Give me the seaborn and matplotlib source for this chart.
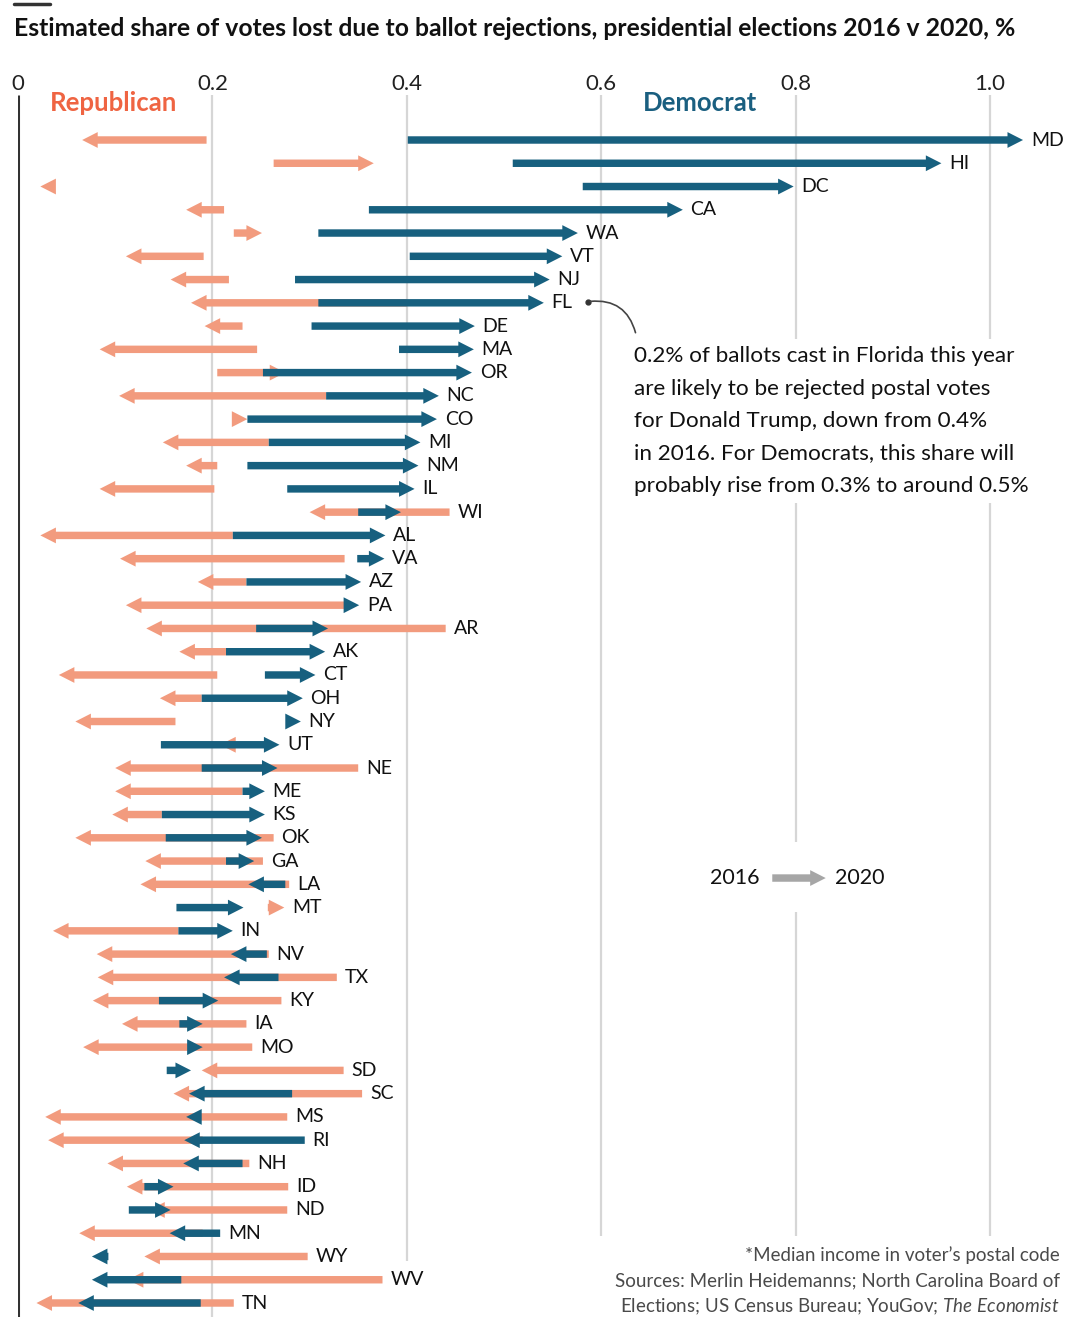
import numpy as np
import pandas as pd
import seaborn as sns
import matplotlib.pyplot as plt
from matplotlib.patches import FancyArrow, Rectangle
from matplotlib.lines import Line2D

# values (% of votes lost), rows top to bottom
states = ["MD", "HI", "DC", "CA", "WA", "VT", "NJ", "FL", "DE", "MA", "OR", "NC", "CO",
          "MI", "NM", "IL", "WI", "AL", "VA", "AZ", "PA", "AR", "AK", "CT", "OH", "NY",
          "UT", "NE", "ME", "KS", "OK", "GA", "LA", "MT", "IN", "NV", "TX", "KY", "IA",
          "MO", "SD", "SC", "MS", "RI", "NH", "ID", "ND", "MN", "WY", "WV", "TN"]
rep_2016 = [0.194, 0.263, 0.038, 0.212, 0.222, 0.191, 0.217, 0.400, 0.231, 0.246, 0.205, 0.317, 0.221,
            0.258, 0.205, 0.202, 0.444, 0.221, 0.336, 0.235, 0.336, 0.440, 0.214, 0.205, 0.189, 0.162,
            0.217, 0.350, 0.231, 0.148, 0.263, 0.252, 0.279, 0.257, 0.165, 0.258, 0.328, 0.271, 0.235,
            0.241, 0.335, 0.354, 0.277, 0.190, 0.238, 0.278, 0.277, 0.190, 0.298, 0.375, 0.222]
rep_2020 = [0.066, 0.366, 0.023, 0.173, 0.251, 0.111, 0.157, 0.178, 0.192, 0.084, 0.275, 0.104, 0.236,
            0.149, 0.173, 0.084, 0.300, 0.023, 0.105, 0.185, 0.111, 0.132, 0.166, 0.042, 0.146, 0.059,
            0.208, 0.100, 0.100, 0.097, 0.059, 0.131, 0.126, 0.274, 0.036, 0.081, 0.082, 0.077, 0.107,
            0.067, 0.189, 0.160, 0.028, 0.031, 0.092, 0.112, 0.135, 0.063, 0.130, 0.113, 0.019]
dem_2016 = [0.401, 0.509, 0.581, 0.361, 0.309, 0.403, 0.285, 0.309, 0.302, 0.392, 0.252, 0.317, 0.236,
            0.258, 0.236, 0.277, 0.350, 0.221, 0.349, 0.235, 0.335, 0.245, 0.214, 0.254, 0.189, 0.276,
            0.147, 0.189, 0.231, 0.148, 0.152, 0.214, 0.275, 0.163, 0.165, 0.256, 0.268, 0.145, 0.166,
            0.175, 0.153, 0.282, 0.188, 0.295, 0.231, 0.130, 0.114, 0.208, 0.093, 0.168, 0.188]
dem_2020 = [1.034, 0.950, 0.798, 0.684, 0.576, 0.560, 0.547, 0.541, 0.470, 0.469, 0.467, 0.433, 0.431,
            0.414, 0.412, 0.408, 0.394, 0.378, 0.377, 0.353, 0.351, 0.319, 0.316, 0.306, 0.293, 0.291,
            0.269, 0.267, 0.254, 0.254, 0.251, 0.243, 0.237, 0.232, 0.221, 0.219, 0.212, 0.206, 0.190,
            0.190, 0.178, 0.176, 0.173, 0.171, 0.170, 0.160, 0.157, 0.156, 0.076, 0.076, 0.062]

ticks = [0, 0.2, 0.4, 0.6, 0.8, 1.0]
tick_labels = ["0", "0.2", "0.4", "0.6", "0.8", "1.0"]

df = pd.DataFrame({"state": states, "rep_2016": rep_2016, "rep_2020": rep_2020,
                   "dem_2016": dem_2016, "dem_2020": dem_2020})
df["row"] = np.arange(len(df))

REP = "#f29b7e"
DEM = "#17607f"

sns.set_theme(style="white")
plt.rcParams["font.family"] = ["Lato", "DejaVu Sans"]
plt.rcParams["mathtext.fontset"] = "custom"
plt.rcParams["mathtext.rm"] = "Lato"
plt.rcParams["mathtext.it"] = "Lato:italic"

W, H = 1079, 1317
x0, unit = 18, 972           # pixel of zero, pixels per 1.0
top_px, row0, row_h = 95, 140, 23.26

fig = plt.figure(figsize=(W / 100, H / 100), dpi=100)
fig.patch.set_facecolor("white")
ax = fig.add_axes([x0 / W, 0, 1 - x0 / W, 1 - top_px / H])
ax.set_xlim(0, (W - x0) / unit)
ax.set_ylim((H - row0) / row_h, (top_px - row0) / row_h)
ax.set_facecolor("white")

# gridlines
grid_end = {0: None, 0.2: None, 0.4: 48.2, 0.6: 47.1, 0.8: 47.1, 1.0: 47.1}
for t in ticks:
    yb = grid_end[t] if grid_end[t] is not None else ax.get_ylim()[0]
    if t == 0:
        ax.vlines(t, ax.get_ylim()[1], yb, color="#333333", lw=2.2, zorder=1)
    else:
        ax.vlines(t, ax.get_ylim()[1], yb, color="#d6d6d6", lw=1.6, zorder=1)

ax.set_xticks(ticks, tick_labels)
ax.xaxis.tick_top()
ax.tick_params(axis="x", length=0, pad=1, labelsize=16, labelcolor="#222222")
ax.set_yticks([])
sns.despine(ax=ax, left=True, bottom=True, top=True, right=True)

HW, SW, HL = 0.68, 0.32, 0.016


def arrow(a, b, y, color, z):
    d = b - a
    if abs(d) < HL:
        a = b - np.sign(d) * HL
        d = b - a
    ax.add_patch(FancyArrow(a, y, d, 0, width=SW, head_width=HW, head_length=HL,
                            length_includes_head=True, fc=color, ec="none", zorder=z))


for _, r in df.iterrows():
    arrow(r.rep_2016, r.rep_2020, r.row, REP, 3)
    arrow(r.dem_2016, r.dem_2020, r.row, DEM, 4)
    mx = max(r.rep_2016, r.rep_2020, r.dem_2016, r.dem_2020)
    ax.text(mx + 0.008, r.row, r.state, ha="left", va="center", fontsize=14,
            color="#111111", zorder=5)

ax.text(0.033, -1.59, "Republican", color="#ef6442", fontsize=18.5, fontweight="bold",
        ha="left", va="center")
ax.text(0.643, -1.59, "Democrat", color="#1a5f80", fontsize=18.5, fontweight="bold",
        ha="left", va="center")

note = ("0.2% of ballots cast in Florida this year\n"
        "are likely to be rejected postal votes\n"
        "for Donald Trump, down from 0.4%\n"
        "in 2016. For Democrats, this share will\n"
        "probably rise from 0.3% to around 0.5%")
ax.text(0.634, 12.08, note, fontsize=16.2, linespacing=1.77, ha="left", va="center",
        color="#111111", bbox=dict(fc="white", ec="none", pad=5), zorder=5)
ax.plot(0.586, 6.95, "o", ms=3.5, color="#333333", zorder=6)
ax.annotate("", xy=(0.636, 8.4), xytext=(0.586, 6.95),
            arrowprops=dict(arrowstyle="-", color="#444444", lw=1.2,
                            connectionstyle="arc3,rad=-0.45"), zorder=6)

# key
ax.add_patch(Rectangle((0.70, 30.2), 0.2, 3.0, fc="white", ec="none", zorder=2))
ax.text(0.763, 31.73, "2016", ha="right", va="center", fontsize=15.5, color="#111111", zorder=5)
ax.add_patch(FancyArrow(0.776, 31.73, 0.055, 0, width=SW, head_width=HW, head_length=HL,
                        length_includes_head=True, fc="#a6a6a6", ec="none", zorder=5))
ax.text(0.8405, 31.73, "2020", ha="left", va="center", fontsize=15.5, color="#111111", zorder=5)

fig.add_artist(Line2D([14 / W, 50 / W], [1 - 4 / H, 1 - 4 / H], color="#333333", lw=2.5))
fig.text(14 / W, 1 - 28 / H,
         "Estimated share of votes lost due to ballot rejections, presidential elections 2016 v 2020, %",
         fontsize=17.8, fontweight="bold", ha="left", va="center", color="#111111")

foot_kw = dict(ha="right", va="center", fontsize=13.5, color="#4a4a4a")
fig.text(1060 / W, 1 - 1255 / H, "*Median income in voter\u2019s postal code", **foot_kw)
fig.text(1060 / W, 1 - 1281 / H, "Sources: Merlin Heidemanns; North Carolina Board of", **foot_kw)
fig.text(1060 / W, 1 - 1307 / H,
         r"Elections; US Census Bureau; YouGov; $\it{The\ Economist}$", **foot_kw)

fig.savefig("out.png", dpi=100)
